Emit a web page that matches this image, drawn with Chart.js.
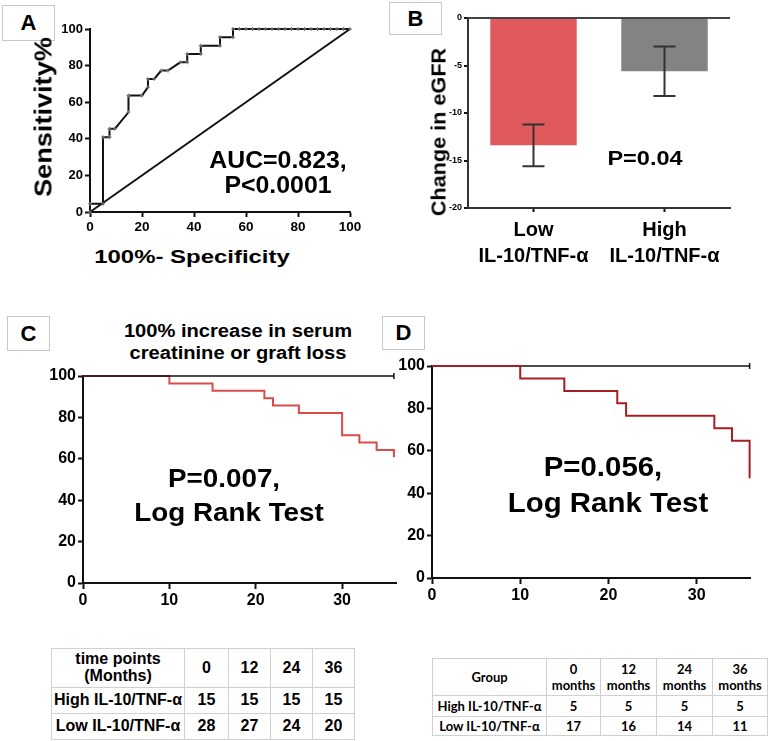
<!DOCTYPE html>
<html>
<head>
<meta charset="utf-8">
<script src="https://cdn.jsdelivr.net/npm/chart.js@4.4.0/dist/chart.umd.min.js"></script>
<style>
  body { margin: 0; background: #fff; }
  #fig { position: relative; width: 768px; height: 741px; overflow: hidden; font-family: 'Liberation Sans', Arial, sans-serif; }
  canvas { position: absolute; }
  .t { position: absolute; font-weight: bold; white-space: nowrap; line-height: 1; color: #000; }
  .box { position: absolute; border: 1px solid #c8c8c8; display: flex; align-items: center; justify-content: center; font-weight: bold; font-size: 22px; background: #fff; box-sizing: border-box; }
  table { position: absolute; border-collapse: collapse; table-layout: fixed; background: #fff; }
  td { border: 1px solid #d0d0d0; text-align: center; padding: 0; font-weight: bold; white-space: pre-line; }
  #tabC td { font-size: 16px; line-height: 1.05; }
  #tabD td { font-family: Lato, 'Liberation Sans', sans-serif; font-size: 13px; line-height: 1.25; }
</style>
</head>
<body>
<div id="fig">
  <canvas id="chartA" width="324" height="221" style="left:40px;top:19px;width:324px;height:221px"></canvas>
  <canvas id="chartB" width="312" height="258" style="left:428px;top:10px;width:312px;height:258px"></canvas>
  <canvas id="chartC" width="369" height="249" style="left:33px;top:364px;width:369px;height:249px"></canvas>
  <canvas id="chartD" width="374" height="254" style="left:382px;top:354px;width:374px;height:254px"></canvas>
</div>
<script>
// Panel A: ROC curve (100% - specificity vs sensitivity)
const rocX = [0, 0, 5, 5, 7.5, 7.5, 9.6, 14.8, 14.8, 20, 22.3, 22.3, 24.7, 27.4, 30, 34.7, 37.4, 37.4, 42.6, 42.6, 50, 50, 55, 55,
  57.5, 60, 62.5, 65, 67.5, 70, 72.5, 75, 77.5, 80, 82.5, 85, 87.5, 90, 92.5, 95, 97.5, 100];
const rocY = [0, 4.5, 4.5, 40.9, 40.9, 45.5, 45.5, 54.5, 63.6, 63.6, 68.2, 72.7, 72.7, 77.3, 77.3, 81.8, 81.8, 86.4, 86.4, 90.9, 90.9, 95.5, 95.5, 100,
  100, 100, 100, 100, 100, 100, 100, 100, 100, 100, 100, 100, 100, 100, 100, 100, 100, 100];
const refX = [0, 100];
const refY = [0, 100];
const rocTicks = [0, 20, 40, 60, 80, 100];

// Panel B: change in eGFR by group
const eGFRGroups = [['Low', 'IL-10/TNF-α'], ['High', 'IL-10/TNF-α']];
const eGFRMean = [-13.4, -5.6];
const eGFRErrTop = [-11.2, -3.0];
const eGFRErrBottom = [-15.6, -8.2];

// Panel C: Kaplan-Meier, 100% increase in serum creatinine or graft loss
const kmCLowTime = [0, 10, 15, 21, 22, 25, 30, 32, 34, 36];
const kmCLowSurv = [100, 96.4, 92.9, 89.3, 85.7, 82.1, 71.4, 67.9, 64.3, 60.7];
const kmCHighTime = [0, 36];
const kmCHighSurv = [100, 100];

// Panel D: Kaplan-Meier
const kmDLowTime = [0, 10, 15, 21, 22, 32, 34, 36];
const kmDLowSurv = [100, 94.1, 88.2, 82.4, 76.5, 70.6, 64.7, 47.1];
const kmDHighTime = [0, 36];
const kmDHighSurv = [100, 100];
const kmXTicks = [0, 10, 20, 30];
const kmYTicks = [0, 20, 40, 60, 80, 100];

// Number-at-risk tables
const tableCHeader = ['time points\n(Months)', '0', '12', '24', '36'];
const tableCRows = [['High IL-10/TNF-α', '15', '15', '15', '15'], ['Low IL-10/TNF-α', '28', '27', '24', '20']];
const tableDHeader = ['Group', '0\nmonths', '12\nmonths', '24\nmonths', '36\nmonths'];
const tableDRows = [['High IL-10/TNF-α', '5', '5', '5', '5'], ['Low IL-10/TNF-α', '17', '16', '14', '11']];

Chart.defaults.font.family = "'Liberation Sans', Arial, sans-serif";
Chart.defaults.animation = false;
Chart.defaults.plugins.legend.display = false;
Chart.defaults.plugins.tooltip.enabled = false;

const fig = document.getElementById('fig');

function toPoints(xs, ys) {
  return xs.map((x, i) => ({ x: x, y: ys[i] }));
}

// add a text label centred on (cx, cy)
function label(text, cx, cy, size, sx, rot) {
  const d = document.createElement('div');
  d.className = 't';
  d.textContent = text;
  d.style.left = cx + 'px';
  d.style.top = cy + 'px';
  d.style.fontSize = size + 'px';
  d.style.transform = 'translate(-50%,-50%) rotate(' + (rot || 0) + 'deg) scaleX(' + (sx || 1) + ')';
  fig.appendChild(d);
}

function box(letter, l, t, w, h) {
  const d = document.createElement('div');
  d.className = 'box';
  d.textContent = letter;
  d.style.left = l + 'px';
  d.style.top = t + 'px';
  d.style.width = w + 'px';
  d.style.height = h + 'px';
  fig.appendChild(d);
}

function table(id, header, rows, l, t, colW, rowH) {
  const tab = document.createElement('table');
  tab.id = id;
  tab.style.left = l + 'px';
  tab.style.top = t + 'px';
  const cg = document.createElement('colgroup');
  colW.forEach(w => {
    const c = document.createElement('col');
    c.style.width = w + 'px';
    cg.appendChild(c);
  });
  tab.appendChild(cg);
  [header].concat(rows).forEach((r, i) => {
    const tr = document.createElement('tr');
    tr.style.height = rowH[i] + 'px';
    r.forEach(v => {
      const td = document.createElement('td');
      td.textContent = v;
      tr.appendChild(td);
    });
    tab.appendChild(tr);
  });
  fig.appendChild(tab);
}

function axisStyle(size, tickLen) {
  return {
    ticks: { font: { size: size, weight: 'bold' }, color: '#000', padding: 2, autoSkip: false, maxRotation: 0 },
    grid: { drawOnChartArea: false, tickLength: tickLen, tickWidth: 2, tickColor: '#111' },
    border: { color: '#111', width: 2 }
  };
}

// ---- Panel A ----
const aX = axisStyle(13.5, 5);
const aY = axisStyle(13, 5);
new Chart(document.getElementById('chartA'), {
  type: 'line',
  data: {
    datasets: [
      {
        data: toPoints(rocX, rocY),
        borderColor: '#111', borderWidth: 2, clip: false,
        pointStyle: 'cross', pointRadius: 2, pointBorderWidth: 1, pointBorderColor: '#777'
      },
      { data: toPoints(refX, refY), borderColor: '#111', borderWidth: 2, pointRadius: 0, clip: false }
    ]
  },
  options: {
    responsive: false,
    layout: { padding: { top: 10, right: 14 } },
    scales: {
      x: Object.assign(aX, {
        type: 'linear', min: 0, max: 100,
        afterBuildTicks: s => { s.ticks = rocTicks.map(v => ({ value: v })); },
        afterFit: s => { s.height = 28; }
      }),
      y: Object.assign(aY, {
        min: 0, max: 100,
        afterBuildTicks: s => { s.ticks = rocTicks.map(v => ({ value: v })); },
        afterFit: s => { s.width = 50; }
      })
    }
  }
});

// ---- Panel B ----
const errorBars = {
  id: 'errorBars',
  afterDatasetsDraw(chart) {
    const meta = chart.getDatasetMeta(0);
    const y = chart.scales.y;
    const ctx = chart.ctx;
    ctx.save();
    ctx.strokeStyle = '#333';
    ctx.lineWidth = 2;
    meta.data.forEach((bar, i) => {
      const top = y.getPixelForValue(eGFRErrTop[i]);
      const bot = y.getPixelForValue(eGFRErrBottom[i]);
      ctx.beginPath();
      ctx.moveTo(bar.x, top); ctx.lineTo(bar.x, bot);
      ctx.moveTo(bar.x - 11, top); ctx.lineTo(bar.x + 11, top);
      ctx.moveTo(bar.x - 11, bot); ctx.lineTo(bar.x + 11, bot);
      ctx.stroke();
    });
    ctx.restore();
  }
};

const bX = axisStyle(20, 4);
bX.ticks.font.lineHeight = 1.3;
bX.ticks.padding = 5;
bX.grid.offset = false;
bX.border.color = '#333';
const bY = axisStyle(9, 4);
bY.grid.drawOnChartArea = true;
bY.grid.color = c => (c.tick && c.tick.value === 0 ? '#444' : 'rgba(0,0,0,0)');
bY.grid.lineWidth = 2;
bY.border.color = '#333';
new Chart(document.getElementById('chartB'), {
  type: 'bar',
  data: {
    labels: eGFRGroups,
    datasets: [{
      data: eGFRMean,
      backgroundColor: ['#E05A5D', '#838383'],
      borderWidth: 0,
      barPercentage: 0.66,
      categoryPercentage: 1
    }]
  },
  options: {
    responsive: false,
    layout: { padding: { top: 8, right: 10 } },
    scales: {
      x: Object.assign(bX, { afterFit: s => { s.height = 60; } }),
      y: Object.assign(bY, { min: -20, max: 0, ticks: Object.assign(bY.ticks, { stepSize: 5 }), afterFit: s => { s.width = 40; } })
    }
  },
  plugins: [errorBars]
});

// ---- Panels C and D ----
function kmChart(id, lowT, lowS, highT, highS, xMax, lowColor, lowOnTop) {
  const low = {
    data: toPoints(lowT, lowS), stepped: 'before', borderColor: lowColor, borderWidth: 2,
    pointRadius: 0, clip: false, order: lowOnTop ? 0 : 1
  };
  const high = {
    data: toPoints(highT, highS), borderColor: '#111', borderWidth: 1.5, clip: false, order: lowOnTop ? 1 : 0,
    pointStyle: 'line', rotation: 90,
    pointRadius: c => (c.dataIndex === highT.length - 1 ? 3 : 0), pointBorderColor: '#111', pointBorderWidth: 1.5
  };
  const sx = axisStyle(16, 6);
  const sy = axisStyle(16, 5);
  return new Chart(document.getElementById(id), {
    type: 'line',
    data: { datasets: [low, high] },
    options: {
      responsive: false,
      layout: { padding: { top: 12, right: 4 } },
      scales: {
        x: Object.assign(sx, {
          type: 'linear', min: 0, max: xMax,
          afterBuildTicks: s => { s.ticks = kmXTicks.map(v => ({ value: v })); },
          afterFit: s => { s.height = 30; }
        }),
        y: Object.assign(sy, {
          min: 0, max: 100,
          afterBuildTicks: s => { s.ticks = kmYTicks.map(v => ({ value: v })); },
          afterFit: s => { s.width = 50; }
        })
      }
    }
  });
}

kmChart('chartC', kmCLowTime, kmCLowSurv, kmCHighTime, kmCHighSurv, 36.3, '#DC4B4B', false);
kmChart('chartD', kmDLowTime, kmDLowSurv, kmDHighTime, kmDHighSurv, 36.1, '#A61E22', true);

// ---- Text ----
box('A', 2, 5, 53, 36);
box('B', 389, 2, 53, 33);
box('C', 7, 316, 43, 35);
box('D', 382, 316, 43, 34);

label('Sensitivity%', 44, 117, 23, 1.18, -90);
label('100%- Specificity', 192, 256, 19, 1.26);
label('AUC=0.823,', 278, 160, 23, 1.08);
label('P<0.0001', 278, 185, 23, 1.08);

label('Change in eGFR', 438, 132, 21, 1.03, -90);
label('P=0.04', 645, 157, 21, 1.12);

label('100% increase in serum', 238, 332, 17.5, 1.15);
label('creatinine or graft loss', 238, 354, 17.5, 1.15);
label('P=0.007,', 224, 478, 26.5, 1.05);
label('Log Rank Test', 229, 512, 26.5, 1.05);

label('P=0.056,', 603, 467, 28, 1.05);
label('Log Rank Test', 608, 503, 28, 1.05);

table('tabC', tableCHeader, tableCRows, 51, 648, [133, 44, 42, 42, 42], [39, 26, 26]);
table('tabD', tableDHeader, tableDRows, 432, 658, [114, 54, 56, 56, 55], [37, 21, 19]);
</script>
</body>
</html>
